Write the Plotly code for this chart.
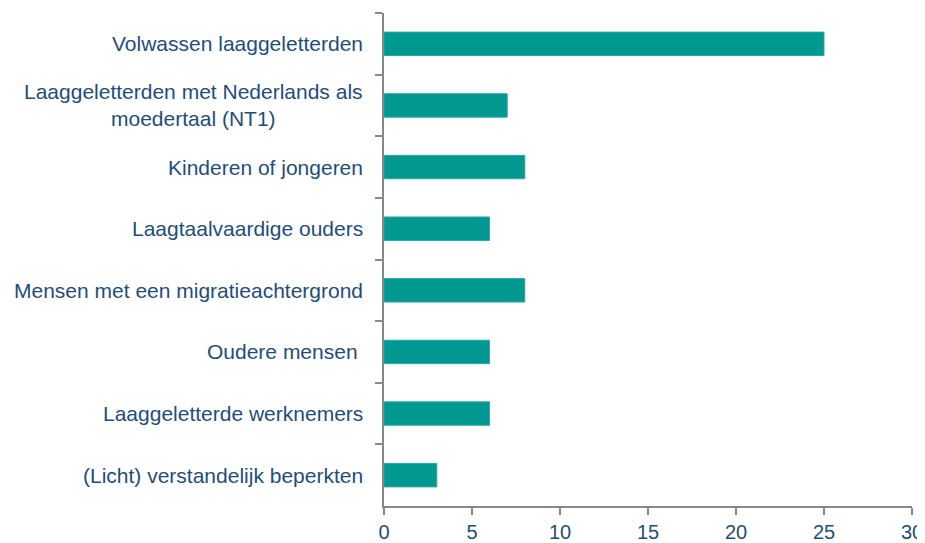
import plotly.graph_objects as go

categories = [
    "Volwassen laaggeletterden",
    "Laaggeletterden met Nederlands als<br>moedertaal (NT1)",
    "Kinderen of jongeren",
    "Laagtaalvaardige ouders",
    "Mensen met een migratieachtergrond",
    "Oudere mensen\u00a0",
    "Laaggeletterde werknemers",
    "(Licht) verstandelijk beperkten",
]
values = [25, 7, 8, 6, 8, 6, 6, 3]
x_ticks = [0, 5, 10, 15, 20, 25, 30]

text_color = "#1f4e79"
axis_color = "#888888"
bar_color = "#009891"
font_family = "Liberation Sans, Arial, sans-serif"

fig = go.Figure(go.Bar(
    x=values, y=categories, orientation="h",
    marker=dict(color=bar_color, line=dict(color="#2aa9a3", width=1)),
    hoverinfo="x+y",
))

for c in categories:
    fig.add_annotation(
        x=0, xref="paper", y=c, yref="y", text=c, showarrow=False,
        xanchor="right", yanchor="middle", xshift=-19, align="center",
        font=dict(family=font_family, size=21, color=text_color),
    )

# page body has an 8px margin, so the figure is sized to fit the window
fig.update_layout(
    width=917, height=535,
    margin=dict(l=376, r=13, t=5, b=37, autoexpand=False),
    paper_bgcolor="white", plot_bgcolor="white",
    bargap=0.62,
    showlegend=False,
    font=dict(family=font_family, size=20, color=text_color),
)
fig.update_xaxes(
    range=[0, 30], tickvals=x_ticks, showgrid=False, zeroline=False,
    showline=True, linecolor=axis_color, linewidth=2, automargin=False,
    ticks="outside", ticklen=7, tickwidth=2, tickcolor=axis_color,
    tickfont=dict(family=font_family, size=20, color=text_color),
)
fig.update_yaxes(
    autorange="reversed", showticklabels=False, showgrid=False, zeroline=False,
    showline=True, linecolor=axis_color, linewidth=2, automargin=False,
    ticks="outside", tickson="boundaries", ticklen=7, tickwidth=2, tickcolor=axis_color,
)

fig.write_html("out.html")
